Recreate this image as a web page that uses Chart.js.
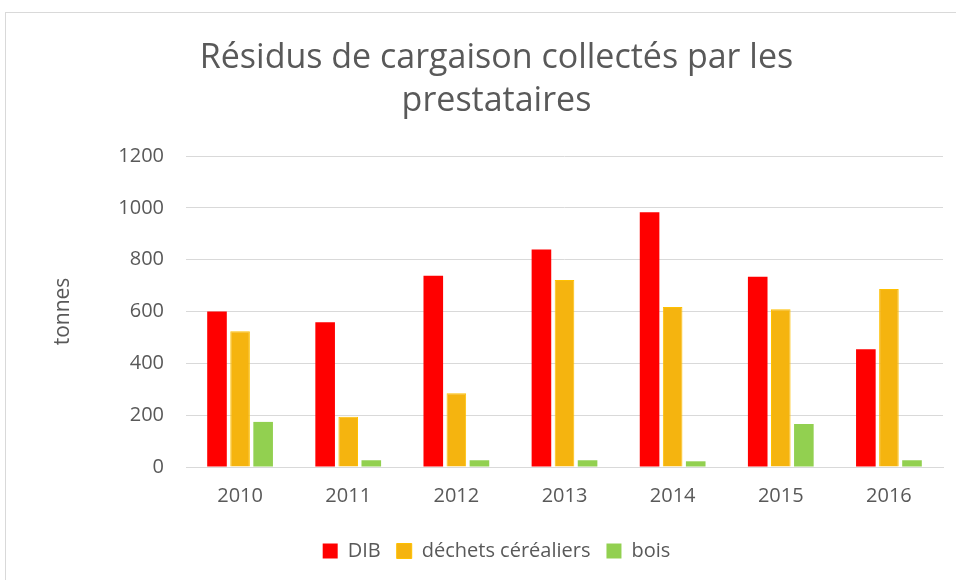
<!DOCTYPE html>
<html>
<head>
<meta charset="utf-8">
<script src="https://cdn.jsdelivr.net/npm/chart.js@4/dist/chart.umd.min.js"></script>
<style>
  body { margin: 0; background: #fff; }
  .wrap { position: relative; width: 956px; height: 580px; }
  .frame { position: absolute; left: 5px; top: 12px; width: 960px; height: 580px; border: 1px solid #d9d9d9; box-sizing: border-box; pointer-events: none; }
  canvas { position: absolute; left: 0; top: 0; }
</style>
</head>
<body>
<div class="wrap">
  <canvas id="chart" width="956" height="580"></canvas>
  <div class="frame"></div>
</div>
<script>
const years = ['2010', '2011', '2012', '2013', '2014', '2015', '2016'];
const dib = [600, 559, 738, 839, 983, 734, 454];
const dechetsCerealiers = [524, 194, 285, 722, 617, 609, 687];
const bois = [174, 26, 26, 26, 22, 166, 26];
const yTicks = [0, 200, 400, 600, 800, 1000, 1200];

const fontFamily = "'Open Sans', 'DejaVu Sans', sans-serif";
const grey = '#595959';

const ctx = document.getElementById('chart').getContext('2d');

const barStyle = {
  barPercentage: 0.85,
  categoryPercentage: 0.64,
  borderWidth: 0
};

new Chart(ctx, {
  type: 'bar',
  data: {
    labels: years,
    datasets: [
      { label: 'DIB', data: dib, backgroundColor: '#ff0000', ...barStyle },
      { label: 'déchets céréaliers', data: dechetsCerealiers, backgroundColor: '#f5b40f', borderColor: '#ffc000', ...barStyle, borderWidth: 1 },
      { label: 'bois', data: bois, backgroundColor: '#92d050', ...barStyle }
    ]
  },
  options: {
    responsive: false,
    animation: false,
    layout: {
      padding: { top: 37, right: 13, bottom: 9, left: 50 }
    },
    scales: {
      x: {
        grid: { display: false, drawTicks: false },
        border: { color: '#d9d9d9', width: 1 },
        ticks: { color: grey, font: { family: fontFamily, size: 20 }, padding: 17 }
      },
      y: {
        min: 0,
        max: 1200,
        afterBuildTicks: (scale) => {
          scale.ticks = yTicks.map(v => ({ value: v }));
        },
        afterFit: (scale) => {
          scale.width = 136;
        },
        grid: { color: '#d9d9d9', lineWidth: 1, drawTicks: false },
        border: { display: false },
        ticks: {
          color: grey,
          font: { family: fontFamily, size: 20 },
          padding: 22,
          callback: (value) => String(value)
        },
        title: {
          display: true,
          text: 'tonnes',
          color: grey,
          font: { family: fontFamily, size: 21 },
          padding: 0
        }
      }
    },
    plugins: {
      title: {
        display: true,
        text: ['Résidus de cargaison collectés par les', 'prestataires'],
        color: grey,
        font: { family: fontFamily, size: 34, weight: 'normal', lineHeight: 1.265 },
        padding: { top: 0, bottom: 33 }
      },
      legend: {
        position: 'bottom',
        labels: {
          color: grey,
          font: { family: fontFamily, size: 20 },
          boxWidth: 15,
          boxHeight: 15,
          padding: 16
        }
      },
      tooltip: { enabled: false }
    }
  }
});
</script>
</body>
</html>
